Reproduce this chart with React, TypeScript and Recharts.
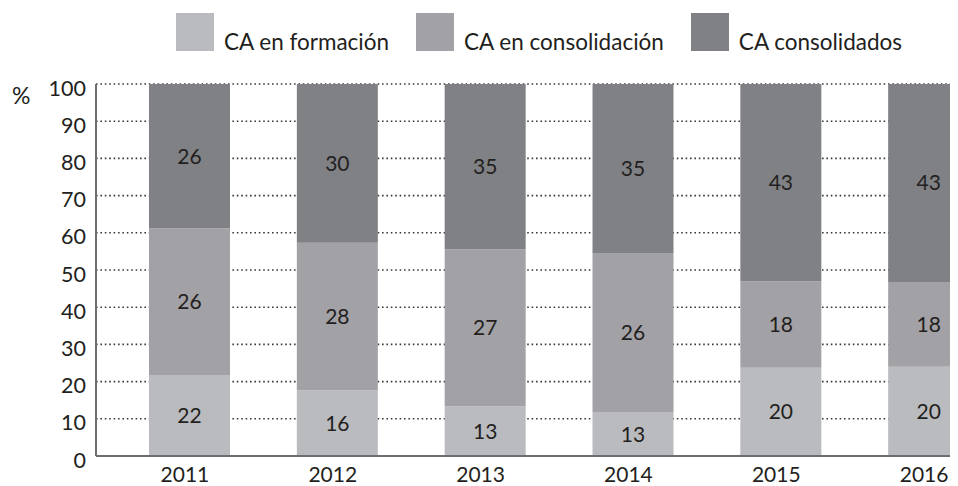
import { Bar, BarChart, CartesianGrid, LabelList, Legend, XAxis, YAxis } from "recharts";

const years = ["2011", "2012", "2013", "2014", "2015", "2016"];
// segment heights as drawn (percent of the bar)
const formacion = [21.8, 17.7, 13.4, 11.8, 23.7, 24.0];
const consolidacion = [39.4, 39.6, 42.2, 42.8, 23.2, 22.8];
const consolidados = [38.8, 42.7, 44.4, 45.4, 53.1, 53.2];
// numbers printed on the bars
const formacionLbl = [22, 16, 13, 13, 20, 20];
const consolidacionLbl = [26, 28, 27, 26, 18, 18];
const consolidadosLbl = [26, 30, 35, 35, 43, 43];
const yTicks = [0, 10, 20, 30, 40, 50, 60, 70, 80, 90, 100];

const names = ["CA en formación", "CA en consolidación", "CA consolidados"];
const colors = ["#babbbe", "#a2a1a5", "#808184"];

const data = years.map((y, i) => ({
    year: y,
    f: formacion[i],
    c: consolidacion[i],
    d: consolidados[i],
    fl: formacionLbl[i],
    cl: consolidacionLbl[i],
    dl: consolidadosLbl[i],
}));

const font = "Lato, 'Open Sans', sans-serif";
const ink = "#231f20";

function LegendBox() {
    return <div style={{ display: "flex", fontFamily: font, fontSize: 22.5, color: ink }}>
        {names.map((n, i) =>
            <div key={n} style={{ display: "flex", alignItems: "flex-end", marginRight: 27 }}>
                <div style={{ width: 38, height: 38, background: colors[i], marginRight: 10 }} />
                <span style={{ lineHeight: 1, position: "relative", top: 2 }}>{n}</span>
            </div>
        )}
    </div>
}

const lblStyle = { fill: ink, fontSize: 21, fontFamily: font };

export default function App() {
    return <div style={{ width: 950, height: 478, overflow: "hidden" }}>
        <BarChart width={1000} height={478} data={data} barSize={81}
                  margin={{ top: 76, right: 5, left: 0, bottom: 0 }}>
            <CartesianGrid vertical={false} stroke="#3a3a3a" strokeWidth={1.6} strokeDasharray="1.6 2.8" />
            <XAxis dataKey="year" padding={{ left: 20, right: 0 }} height={30}
                   tickLine={false} tickSize={0} tickMargin={11} dx={-5}
                   axisLine={{ stroke: "#6d6e71", strokeWidth: 2 }}
                   tick={{ fill: ink, fontSize: 21, fontFamily: font }} />
            <YAxis domain={[0, 100]} ticks={yTicks} width={88} interval={0}
                   tickLine={false} tickSize={0} tickMargin={10}
                   axisLine={{ stroke: "#6d6e71", strokeWidth: 2 }}
                   tick={{ fill: ink, fontSize: 21.5, fontFamily: font, dy: 4 }}
                   label={{ value: "%", position: "insideTopLeft", offset: 4, fill: ink, fontSize: 23, fontFamily: font }} />
            <Legend verticalAlign="middle" align="center" layout="horizontal"
                    wrapperStyle={{ top: 5, left: 168, width: 800 }} content={() => <LegendBox />} />
            <Bar dataKey="f" stackId="a" fill={colors[0]} isAnimationActive={false}>
                <LabelList dataKey="fl" position="center" style={lblStyle} />
            </Bar>
            <Bar dataKey="c" stackId="a" fill={colors[1]} isAnimationActive={false}>
                <LabelList dataKey="cl" position="center" style={lblStyle} />
            </Bar>
            <Bar dataKey="d" stackId="a" fill={colors[2]} isAnimationActive={false}>
                <LabelList dataKey="dl" position="center" style={lblStyle} />
            </Bar>
        </BarChart>
    </div>
}
